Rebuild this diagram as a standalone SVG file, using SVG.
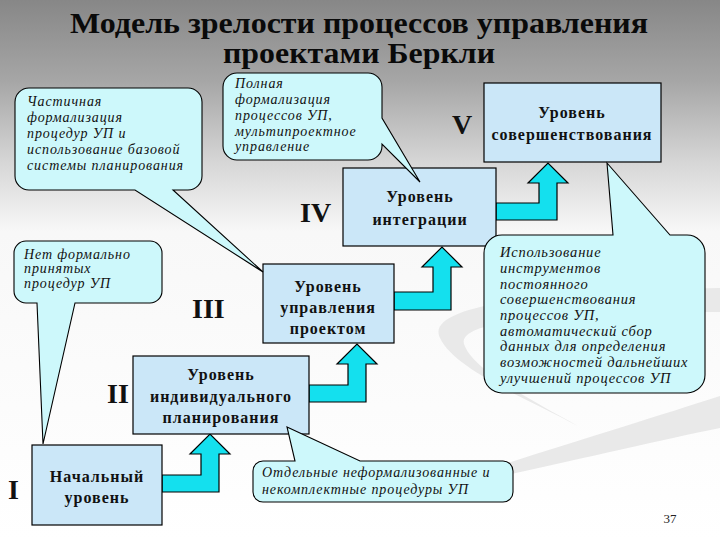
<svg xmlns="http://www.w3.org/2000/svg" width="720" height="540" viewBox="0 0 720 540">
<defs>
<linearGradient id="bg" x1="0" y1="0" x2="0" y2="1">
<stop offset="0" stop-color="#878787"/>
<stop offset="0.15" stop-color="#a6a6a6"/>
<stop offset="0.3" stop-color="#d6d6d6"/>
<stop offset="0.43" stop-color="#f8f8f8"/>
<stop offset="1" stop-color="#ffffff"/>
</linearGradient>
<style>
.box{fill:#cbe7f8;stroke:#000;stroke-width:1.2}
.call{fill:#cdf8fb;stroke:#000;stroke-width:1.1}
.arr{fill:#14e0ee;stroke:#000;stroke-width:1.2}
.bt{font-family:"Liberation Serif",serif;font-weight:bold;font-size:16px;letter-spacing:1px;text-anchor:middle;fill:#111}
.ct{font-family:"Liberation Serif",serif;font-style:italic;font-size:14px;letter-spacing:0.9px;fill:#111}
.rn{font-family:"Liberation Serif",serif;font-weight:bold;font-size:28px;fill:#111}
.ti{font-family:"Liberation Serif",serif;font-weight:bold;font-size:30px;text-anchor:middle;fill:#0a0a0a}
.sw{fill:#e9e9e9}
</style>
</defs>
<rect x="0" y="0" width="720" height="540" fill="url(#bg)"/>
<g id="swoosh">
<path class="sw" d="M720,288 C600,290 420,298 440,338 C455,370 530,400 578,426 C520,394 472,368 464,344 C456,316 600,312 720,312 Z"/>
<path class="sw" d="M410,495 C520,458 640,422 720,396 L720,428 C640,444 520,474 410,495 Z"/>
</g>
<g id="title">
<text class="ti" x="359" y="33" textLength="578" lengthAdjust="spacingAndGlyphs">Модель зрелости процессов управления</text>
<text class="ti" x="359" y="63" textLength="272" lengthAdjust="spacingAndGlyphs">проектами Беркли</text>
</g>
<g id="connectors">
<polygon class="arr" points="162,475 201,475 201,454 190,454 210,434 230,454 219,454 219,492 162,492"/>
<polygon class="arr" points="309,385 348,385 348,364 337,364 357,344 377,364 366,364 366,402 309,402"/>
<polygon class="arr" points="394,292 433,292 433,267 422,267 442,247 462,267 451,267 451,310 394,310"/>
<polygon class="arr" points="496,203 539,203 539,183 528,183 548,163 568,183 557,183 557,220 496,220"/>
</g>
<g id="level1">
<rect class="box" x="32" y="445" width="130" height="80"/>
<text class="bt" x="97" y="482">Начальный</text>
<text class="bt" x="97" y="503">уровень</text>
<text class="rn" x="8" y="499">I</text>
</g>
<g id="level2">
<rect class="box" x="133" y="356" width="176" height="78"/>
<text class="bt" x="221" y="380">Уровень</text>
<text class="bt" x="221" y="402">индивидуального</text>
<text class="bt" x="221" y="423">планирования</text>
<text class="rn" x="107" y="403">II</text>
</g>
<g id="level3">
<rect class="box" x="263" y="264" width="131" height="79"/>
<text class="bt" x="328" y="292">Уровень</text>
<text class="bt" x="328" y="313">управления</text>
<text class="bt" x="328" y="334">проектом</text>
<text class="rn" x="192" y="318">III</text>
</g>
<g id="level4">
<rect class="box" x="343" y="168" width="153" height="78"/>
<text class="bt" x="420" y="202">Уровень</text>
<text class="bt" x="420" y="225">интеграции</text>
<text class="rn" x="300" y="222">IV</text>
</g>
<g id="level5">
<rect class="box" x="484" y="83" width="177" height="79"/>
<text class="bt" x="572" y="118">Уровень</text>
<text class="bt" x="572" y="140">совершенствования</text>
<text class="rn" x="452" y="134">V</text>
</g>
<g id="note1">
<path class="call" d="M26,241 H150 A12,12 0 0 1 162,253 V291 A12,12 0 0 1 150,303 H75 L43,444 L37,303 H26 A12,12 0 0 1 14,291 V253 A12,12 0 0 1 26,241 Z"/>
<text class="ct" x="24" y="259">Нет формально</text>
<text class="ct" x="24" y="273">принятых</text>
<text class="ct" x="24" y="288">процедур  УП</text>
</g>
<g id="note2">
<path class="call" d="M29,88 H188 A14,14 0 0 1 202,102 V176 A14,14 0 0 1 188,190 H173 L263,272 L135,190 H29 A14,14 0 0 1 15,176 V102 A14,14 0 0 1 29,88 Z"/>
<text class="ct" x="27" y="106">Частичная</text>
<text class="ct" x="27" y="122">формализация</text>
<text class="ct" x="27" y="138">процедур УП и</text>
<text class="ct" x="27" y="154">использование базовой</text>
<text class="ct" x="27" y="170">системы планирования</text>
</g>
<g id="note3">
<path class="call" d="M263,461 H295 L287,427 L360,461 H503 A10,10 0 0 1 513,471 V492 A10,10 0 0 1 503,502 H263 A10,10 0 0 1 253,492 V471 A10,10 0 0 1 263,461 Z"/>
<text class="ct" x="262" y="477">Отдельные неформализованные и</text>
<text class="ct" x="262" y="494">некомплектные процедуры УП</text>
</g>
<g id="note4">
<path class="call" d="M237,73 H368 A14,14 0 0 1 382,87 V118 L420,182 L382,144 V146 A14,14 0 0 1 368,160 H237 A14,14 0 0 1 223,146 V87 A14,14 0 0 1 237,73 Z"/>
<text class="ct" x="235" y="88">Полная</text>
<text class="ct" x="235" y="104">формализация</text>
<text class="ct" x="235" y="120">процессов УП,</text>
<text class="ct" x="235" y="136">мультипроектное</text>
<text class="ct" x="235" y="151">управление</text>
</g>
<g id="note5">
<path class="call" d="M502,235 H613 L607,163 L670,235 H687 A18,18 0 0 1 705,253 V375 A18,18 0 0 1 687,393 H502 A18,18 0 0 1 484,375 V253 A18,18 0 0 1 502,235 Z"/>
<g class="ct" style="font-size:14.5px;letter-spacing:0.8px">
<text x="500" y="257">Использование</text>
<text x="500" y="273">инструментов</text>
<text x="500" y="289">постоянного</text>
<text x="500" y="304">совершенствования</text>
<text x="500" y="320">процессов УП,</text>
<text x="500" y="336">автоматический сбор</text>
<text x="500" y="351">данных для определения</text>
<text x="500" y="367">возможностей дальнейших</text>
<text x="500" y="383">улучшений процессов УП</text>
</g>
</g>
<text x="670" y="523" font-family="Liberation Serif, serif" font-size="13" text-anchor="middle" fill="#222">37</text>
</svg>
